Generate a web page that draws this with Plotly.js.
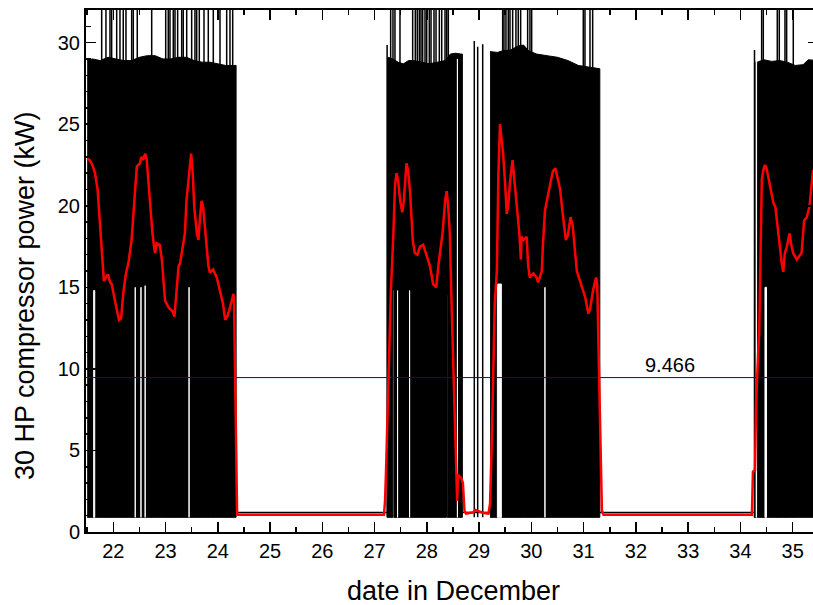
<!DOCTYPE html>
<html><head><meta charset="utf-8">
<script src="https://cdn.plot.ly/plotly-3.0.1.min.js"></script>
<style>html,body{margin:0;padding:0;overflow:hidden;background:#fff}</style>
</head><body><div id="chart"></div>
<script>
// ---- data ----
// black signal: envelope of on-periods (upper edge of the dense band), per block
const top1X = [21.50,21.60,21.75,21.90,22.05,22.20,22.35,22.50,22.65,22.80,22.95,23.10,23.25,23.40,23.55,23.70,23.85,24.00,24.15,24.30,24.35];
const top1Y = [28.9,29.0,28.9,29.1,29.0,28.9,28.9,29.1,29.2,29.2,29.0,29.0,29.1,29.1,28.9,28.8,28.8,28.7,28.6,28.6,28.6];
const top2X = [27.24,27.26,27.35,27.45,27.55,27.65,27.75,27.90,28.05,28.20,28.35,28.45,28.55,28.65,28.68];
const top2Y = [29.0,29.1,29.0,28.8,28.7,28.9,28.9,28.8,28.7,28.8,28.9,29.3,29.35,29.3,29.3];
const top3X = [29.21,29.35,29.45,29.60,29.75,29.85,29.95,30.10,30.30,30.50,30.70,30.90,31.10,31.31];
const top3Y = [29.45,29.4,29.5,29.55,29.8,29.85,29.5,29.3,29.2,29.1,28.9,28.6,28.5,28.4];
const top4X = [34.26,34.32,34.45,34.60,34.75,34.90,35.05,35.20,35.30,35.49];
const top4Y = [28.8,28.8,28.95,28.85,28.9,28.8,28.6,28.65,28.95,28.9];
const bandBottom = 0.9;       // lower edge of the on-period band
const offLevel = 1.2;         // black signal level when the compressor is off
const offStart = [24.35, 28.68, 31.31];
const offEnd   = [27.24, 29.21, 34.26];

// spikes of the black signal rising above the band
const spikeX = [21.778,21.860,21.937,21.969,22.065,22.128,22.191,22.243,22.352,22.383,22.459,22.735,23.003,23.052,23.085,23.148,23.181,23.232,23.309,23.339,23.405,23.500,23.563,23.596,23.646,23.736,23.818,23.914,24.042,24.170,24.233,24.285,
  27.24,27.308,27.352,27.390,27.486,27.729,27.779,27.817,27.856,27.888,27.920,27.965,27.997,28.047,28.080,28.137,28.176,28.239,28.285,28.348,28.381,28.411,
  28.908,28.973,29.069,
  29.451,29.476,29.514,29.558,29.591,29.642,29.705,29.749,29.795,29.929,29.973,30.006,
  30.994,31.026,31.122,31.173,
  34.27,34.407,34.438,34.706,34.744,34.853,34.885,35.012];
const spikeTop = [33,33,33,33,33,33,33,33,33,33,33,33,33,33,33,33,33,33,33,33,33,33,33,33,33,33,33,33,33,33,33,33,
  29.85,33,33,33,33,33,33,33,33,33,33,33,33,33,33,33,33,33,33,33,33,33,
  30.1,29.75,29.9,
  33,33,33,33,33,33,33,33,33,33,33,33,
  33,33,33,33,
  29.55,33,33,33,33,33,33,33];

// places where the signal did not dip (white gaps in the band)
const gapStart = [21.625,22.42,22.53,22.61,23.45,27.36,27.44,27.67,28.38,28.585,29.35,30.26,34.30,34.47];
const gapEnd   = [21.645,22.42,22.53,22.61,23.45,27.36,27.44,27.67,28.38,28.585,29.43,30.26,34.31,34.50];
const gapTop   = [14.8,15.0,15.0,15.1,15.0,14.8,14.8,14.8,14.5,29.0,15.2,15.0,29.0,15.0];

// red moving average
const redX = [21.50,21.55,21.60,21.65,21.70,21.75,21.79,21.82,21.86,21.90,21.94,21.97,22.03,22.07,22.11,22.15,22.19,22.24,22.29,22.35,22.38,22.42,22.45,22.51,22.54,22.57,22.61,22.64,22.67,22.70,22.75,22.78,22.80,22.83,22.89,22.93,22.96,22.99,23.05,23.10,23.14,23.17,23.19,23.21,23.25,23.28,23.31,23.37,23.40,23.44,23.47,23.49,23.52,23.55,23.60,23.63,23.66,23.69,23.72,23.75,23.79,23.82,23.85,23.91,23.98,24.04,24.10,24.14,24.18,24.22,24.27,24.30,24.31,24.37,
  27.18,27.20,27.22,27.25,27.28,27.31,27.36,27.39,27.42,27.45,27.49,27.53,27.56,27.61,27.64,27.68,27.73,27.77,27.82,27.87,27.93,28.00,28.06,28.12,28.18,28.22,28.25,28.30,28.35,28.38,28.41,28.44,28.47,28.51,28.54,28.57,28.58,28.60,28.63,28.66,28.69,28.72,28.75,28.89,28.93,28.97,29.02,29.08,29.18,29.21,29.24,29.27,29.30,29.34,29.37,29.40,29.44,29.46,29.50,29.53,29.56,29.59,29.64,29.69,29.72,29.77,29.80,29.81,29.85,29.91,29.94,29.97,30.04,30.10,30.13,30.17,30.20,30.22,30.26,30.34,30.41,30.46,30.50,30.55,30.60,30.66,30.70,30.75,30.79,30.83,30.87,30.93,31.03,31.09,31.12,31.18,31.24,31.26,31.28,31.31,31.35,31.38,
  34.22,34.24,34.28,34.30,34.32,34.34,34.36,34.375,34.39,34.41,34.44,34.47,34.50,34.53,34.57,34.60,34.63,34.67,34.70,34.72,34.76,34.79,34.82,34.85,34.89,34.94,34.98,35.01,35.08,35.13,35.17,35.22,35.27,35.32,35.35,35.39];
const redY = [22.9,22.8,22.5,22.0,21.0,18.6,16.5,15.4,15.6,15.8,15.3,15.2,14.2,13.5,13.0,13.1,14.6,15.8,16.5,17.9,19.3,21.2,22.4,22.6,23.0,22.8,23.2,22.8,21.6,19.9,18.3,17.5,17.1,17.7,17.6,16.7,15.2,14.2,13.8,13.6,13.5,13.2,14.0,15.2,16.3,16.5,17.1,18.3,20.3,21.6,22.8,23.2,22.0,19.9,18.3,17.9,19.3,20.3,19.9,18.7,17.1,16.3,15.9,16.1,15.6,14.8,14.0,13.0,13.2,13.6,14.2,14.6,14.2,1.05,
  1.05,1.9,3.8,7.9,12.0,14.6,18.3,21.2,22.0,21.6,20.3,19.6,20.3,22.6,22.2,20.8,17.9,17.1,17.0,17.5,17.6,16.9,16.3,15.2,15.0,16.3,17.1,18.3,20.3,20.9,19.9,18.3,14.4,9.9,5.8,3.4,1.9,3.5,3.4,3.3,3.0,1.3,1.13,1.2,1.35,1.3,1.23,1.17,1.13,1.74,5.2,9.9,14.0,16.0,22.0,25.0,23.6,23.2,21.2,19.5,20.1,21.4,22.8,21.2,19.9,18.3,16.7,18.1,17.9,18.1,16.3,15.6,15.85,15.6,15.3,15.7,16.0,17.5,19.7,21.0,22.1,22.3,21.7,21.0,19.5,17.9,18.2,19.3,18.8,17.6,16.0,15.4,14.4,13.4,13.6,14.8,15.6,15.2,12.0,5.8,1.3,1.05,
  1.05,3.7,3.8,7.9,9.9,10.95,12.2,14.8,16.0,21.6,22.2,22.5,22.3,21.8,21.0,20.6,20.2,19.9,19.0,18.5,17.1,16.5,15.95,17.1,17.5,18.3,17.5,17.1,16.7,16.9,17.1,19.1,19.3,19.9,20.8,22.2];

// overall mean
const meanValue = 9.466;

// axes and texts
const xRange = [21.478, 35.485];
const yRange = [0, 32];
const xTitle = 'date in December';
const yTitle = '30 HP compressor power (kW)';

// ---- traces ----
const traces = [];
function band(tx, ty) {
  traces.push({
    x: tx.concat([tx[tx.length-1], tx[0]]),
    y: ty.concat([bandBottom, bandBottom]),
    type: 'scatter', mode: 'lines', fill: 'toself', fillcolor: '#000',
    line: {color: '#000', width: 1}, hoverinfo: 'skip'
  });
}
band(top1X, top1Y); band(top2X, top2Y); band(top3X, top3Y); band(top4X, top4Y);

// off-period baseline
const offX = [], offY = [];
offStart.forEach((s, i) => { offX.push(s, offEnd[i], null); offY.push(offLevel, offLevel, null); });
traces.push({x: offX, y: offY, type: 'scatter', mode: 'lines', line: {color: '#000', width: 1.5}, hoverinfo: 'skip'});

// gaps (white)
gapStart.forEach((s, i) => {
  const e = gapEnd[i];
  traces.push({
    x: [s, e, e, s, s], y: [bandBottom, bandBottom, gapTop[i], gapTop[i], bandBottom],
    type: 'scatter', mode: 'lines', fill: 'toself', fillcolor: '#fff',
    line: {color: '#fff', width: 1}, hoverinfo: 'skip'
  });
});

// spikes
const spX = [], spY = [];
spikeX.forEach((x, i) => { spX.push(x, x, null); spY.push(bandBottom, spikeTop[i], null); });
traces.push({x: spX, y: spY, type: 'scatter', mode: 'lines', line: {color: '#000', width: 1.5}, hoverinfo: 'skip'});

// mean line
traces.push({x: xRange, y: [meanValue, meanValue], type: 'scatter', mode: 'lines', line: {color: '#0000cc', width: 1}, hoverinfo: 'skip'});

// red curve
traces.push({x: redX, y: redY, type: 'scatter', mode: 'lines', line: {color: '#ff0000', width: 2.5}, hoverinfo: 'skip'});

const axisCommon = {
  ticks: 'inside', ticklen: 10, tickwidth: 1.5, tickcolor: '#000',
  showline: true, linecolor: '#000', linewidth: 2, mirror: 'ticks',
  showgrid: false, zeroline: false, tickfont: {size: 20, color: '#000'}
};

const layout = {
  width: 830, height: 605,
  margin: {l: 86, r: 12, t: 10, b: 73},
  paper_bgcolor: '#fff', plot_bgcolor: '#fff', showlegend: false,
  font: {family: 'Liberation Sans, Arial, sans-serif', color: '#000', size: 20},
  xaxis: Object.assign({}, axisCommon, {
    range: xRange, tickmode: 'linear', tick0: 22, dtick: 1,
    minor: {tick0: 21.5, dtick: 0.5, ticks: 'inside', ticklen: 5, tickwidth: 1.5, tickcolor: '#000'}
  }),
  yaxis: Object.assign({}, axisCommon, {
    range: yRange, tickmode: 'linear', tick0: 0, dtick: 5,
    minor: {tick0: 0, dtick: 1, ticks: 'inside', ticklen: 5, tickwidth: 1.5, tickcolor: '#000'}
  }),
  annotations: [
    {x: 32.653, y: meanValue, xref: 'x', yref: 'y', text: String(meanValue),
     showarrow: false, xanchor: 'center', yanchor: 'bottom', font: {size: 20, color: '#000'}},
    {x: 0.5027, y: -0.1123, xref: 'paper', yref: 'paper', text: xTitle,
     showarrow: false, xanchor: 'center', yanchor: 'middle', font: {size: 27, color: '#000'}},
    {x: -0.084, y: 0.453, xref: 'paper', yref: 'paper', text: yTitle, textangle: -90,
     showarrow: false, xanchor: 'center', yanchor: 'middle', font: {size: 27, color: '#000'}}
  ]
};

Plotly.newPlot('chart', traces, layout, {displayModeBar: false, staticPlot: true});
</script></body></html>
